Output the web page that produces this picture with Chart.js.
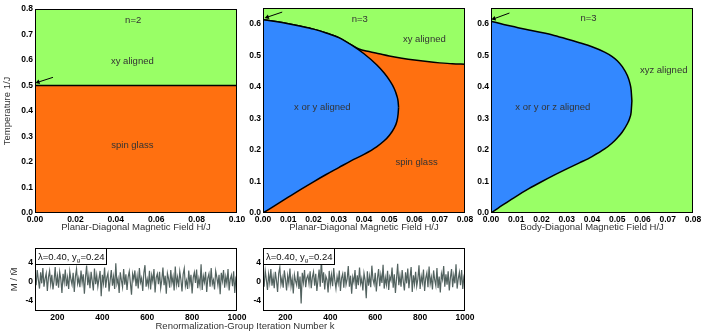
<!DOCTYPE html>
<html lang="en">
<head>
<meta charset="UTF-8">
<title>Phase diagrams and magnetization series</title>
<script src="https://cdn.jsdelivr.net/npm/chart.js"></script>
<style>
  body { margin: 0; background: #fff; font-family: "Liberation Sans", Arial, sans-serif; }
  #wrap { position: relative; width: 715px; height: 334px; overflow: hidden; }
  .box { position: absolute; }
  #kTitle { position: absolute; left: 0; width: 490px; top: 320px; text-align: center; font-size: 9.5px; color: #333; }
</style>
</head>
<body>
<div id="wrap">
  <div class="box" style="left:0;top:0"><canvas id="c1" width="248" height="236"></canvas></div>
  <div class="box" style="left:245px;top:0"><canvas id="c2" width="230" height="236"></canvas></div>
  <div class="box" style="left:473px;top:0"><canvas id="c3" width="232" height="236"></canvas></div>
  <div class="box" style="left:0;top:240px"><canvas id="c4" width="248" height="84"></canvas></div>
  <div class="box" style="left:245px;top:240px"><canvas id="c5" width="230" height="84"></canvas></div>
  <div id="kTitle">Renormalization-Group Iteration Number k</div>
</div>

<script>
// ---- data ----
// n=2, planar field: boundary between xy aligned and spin glass
const p1X = [0, 0.1];
const p1Boundary = [0.5, 0.5];
const p1Top = [0.8, 0.8];
const p1ArrowX = [0.0089, 0.0015];
const p1ArrowY = [0.532, 0.513];

// n=3, planar field
const p2BranchX = [0, 0.005, 0.01, 0.015, 0.02, 0.025, 0.03, 0.035, 0.04, 0.045, 0.048, 0.05, 0.052, 0.053, 0.0535, 0.0537];
const p2UpperY  = [0.613, 0.607, 0.600, 0.592, 0.583, 0.571, 0.556, 0.533, 0.505, 0.470, 0.444, 0.422, 0.394, 0.372, 0.354, 0.335];
const p2LowerY  = [0, 0.025, 0.050, 0.075, 0.099, 0.122, 0.144, 0.166, 0.186, 0.210, 0.229, 0.246, 0.270, 0.290, 0.313, 0.335];
const p2XyX = [0, 0.005, 0.01, 0.015, 0.02, 0.025, 0.03, 0.035, 0.038, 0.042, 0.046, 0.05, 0.055, 0.06, 0.065, 0.07, 0.075, 0.08];
const p2XyY = [0.613, 0.607, 0.600, 0.592, 0.583, 0.571, 0.556, 0.533, 0.520, 0.512, 0.505, 0.498, 0.491, 0.485, 0.480, 0.476, 0.473, 0.472];
const p2EdgeX = [0, 0.08];
const p2EdgeY = [0.65, 0.65];
const p2ArrowX = [0.0076, 0.0017];
const p2ArrowY = [0.637, 0.621];

// n=3, body-diagonal field
const p3BranchX = [0, 0.005, 0.01, 0.015, 0.02, 0.025, 0.03, 0.035, 0.04, 0.045, 0.048, 0.05, 0.052, 0.054, 0.055, 0.0555, 0.0558];
const p3UpperY  = [0.608, 0.598, 0.589, 0.580, 0.572, 0.563, 0.552, 0.540, 0.527, 0.510, 0.496, 0.483, 0.464, 0.436, 0.412, 0.390, 0.355];
const p3LowerY  = [0, 0.027, 0.053, 0.077, 0.099, 0.120, 0.140, 0.159, 0.179, 0.203, 0.222, 0.238, 0.257, 0.283, 0.302, 0.320, 0.355];
const p3ArrowX = [0.0073, 0.0012];
const p3ArrowY = [0.634, 0.616];

// magnetization M / M-bar along the RG trajectory, k = 100 .. 1000
const mA = [
  1.2,-0.8,2.4,0.3,-1.5,1.9,-0.4,2.8,-1.1,0.6,
  1.7,-2.0,0.9,2.2,-0.6,1.4,-1.7,0.2,3.0,-0.9,
  1.1,-1.3,2.0,0.5,-2.4,1.6,-0.2,2.5,-1.0,0.8,
  -1.6,2.1,0.4,-0.7,1.8,-2.2,1.0,2.6,-0.5,0.7,
  -1.2,2.3,-0.3,1.5,-2.6,0.9,3.3,-0.8,1.2,-1.4,
  2.0,0.1,-1.9,2.7,-0.6,1.3,-1.1,0.6,2.2,-3.1,
  1.4,-0.4,2.9,-1.3,0.8,1.7,-2.1,0.3,2.4,-0.9,
  1.0,-1.6,3.8,-0.5,0.6,-2.4,1.9,0.2,-1.2,2.6,
  -0.7,1.5,-1.8,0.9,2.1,-0.3,-2.8,1.6,0.4,2.3,
  -1.0,1.1,-1.5,2.8,-0.2,0.7,-2.0,1.8,3.4,-1.1,
  0.5,-0.9,2.2,-1.7,1.3,0.0,2.6,-2.3,0.8,1.6,
  -0.6,2.0,-1.4,0.3,2.9,-0.8,1.2,-2.6,1.7,0.6,
  -1.3,2.4,-0.4,1.0,-1.9,3.1,-0.7,0.9,-1.2,2.1,
  0.4,-2.1,1.5,2.7,-1.0,0.2,-1.6,2.3,-0.5,1.4,
  -2.5,0.8,1.9,-0.3,2.5,-1.4,0.6,-0.9,3.6,-1.8,
  1.1,-0.2,2.0,-2.2,0.7,1.6,-1.1,2.8,-0.6,0.3,
  -1.7,2.2,0.9,-0.8,1.4,-2.7,1.8,0.1,2.4,-1.3,
  1.0,-0.5,2.6,-1.9,0.5,1.3,-1.0,2.1,-2.4,0.8,
  1.5
];
const mB = [
  0.9,-1.1,2.2,0.4,-1.8,1.5,-0.3,2.6,-0.9,1.0,
  -1.4,2.0,0.2,-2.2,1.7,3.0,-0.6,0.8,-1.3,2.3,
  0.5,-1.9,1.2,-0.4,2.7,-1.0,0.6,-2.5,1.4,0.1,
  -0.8,2.1,-1.6,1.0,-4.6,1.8,-0.2,2.4,-1.2,0.7,
  1.3,-0.5,2.1,-1.4,0.9,2.0,-0.9,1.6,-2.0,0.3,
  2.5,-1.1,4.8,-0.3,1.9,-1.7,1.1,0.4,-2.3,2.2,
  -0.6,1.4,-1.0,2.8,0.2,-1.5,1.0,-0.4,2.3,-2.0,
  0.7,1.6,-1.3,2.0,-0.7,0.5,3.2,-1.1,1.2,-2.6,
  0.9,-0.2,2.4,-1.6,1.3,-0.8,2.9,-0.5,0.6,-1.9,
  1.7,0.3,-3.5,2.1,-0.9,1.1,-1.2,3.3,0.4,-0.6,
  1.8,-2.1,0.7,2.6,-1.0,1.4,-0.3,3.5,-1.5,0.8,
  -0.7,2.2,-1.8,1.0,0.2,2.9,-1.3,1.5,-2.4,0.6,
  3.7,-0.8,1.2,-1.1,2.4,0.0,-1.9,1.9,-0.4,2.7,
  -1.4,0.9,3.0,-2.2,1.3,-0.6,2.0,-1.0,0.5,3.4,
  -1.6,1.1,-0.3,2.5,-2.0,0.7,1.8,-1.2,3.1,-0.5,
  0.9,-1.7,2.3,0.3,-0.9,2.8,-1.4,1.0,-2.3,1.6,
  0.4,3.2,-1.1,1.5,-0.7,2.1,-1.9,0.8,2.6,-1.2,
  1.3,-0.4,3.6,-1.5,0.6,1.9,-0.8,2.4,-1.6,1.0,
  2.0
];
const kStart = 100, kStep = 5;

// tick labels
const p1XTicks = [0, 0.02, 0.04, 0.06, 0.08, 0.1];
const p1YTicks = [0, 0.1, 0.2, 0.3, 0.4, 0.5, 0.6, 0.7, 0.8];
const p23XTicks = [0, 0.01, 0.02, 0.03, 0.04, 0.05, 0.06, 0.07, 0.08];
const p23YTicks = [0, 0.1, 0.2, 0.3, 0.4, 0.5, 0.6];
const kTicks = [200, 400, 600, 800, 1000];
const mTicks = [-4, 0, 4];

// region labels (data coordinates)
const p1Notes = [
  { x: 0.0486, y: 0.757, text: 'n=2' },
  { x: 0.0482, y: 0.596, text: 'xy aligned' },
  { x: 0.0482, y: 0.264, text: 'spin glass' }
];
const p2Notes = [
  { x: 0.0383, y: 0.613, text: 'n=3' },
  { x: 0.0639, y: 0.549, text: 'xy aligned' },
  { x: 0.0235, y: 0.335, text: 'x or y aligned' },
  { x: 0.0608, y: 0.162, text: 'spin glass' }
];
const p3Notes = [
  { x: 0.0386, y: 0.616, text: 'n=3' },
  { x: 0.0684, y: 0.453, text: 'xyz aligned' },
  { x: 0.0245, y: 0.336, text: 'x or y or z aligned' }
];

const GREEN = '#99ff66', ORANGE = '#ff7010', BLUE = '#3388ff';
const FAMILY = '"Liberation Sans", Arial, sans-serif';
const tickFont = { family: FAMILY, size: 8.5, weight: 'bold' };
const titleFont = { family: FAMILY, size: 9.5 };

function pts(xs, ys) { return xs.map((x, i) => ({ x: x, y: ys[i] })); }

function fixSize(size, horizontal) {
  return function (s) {
    if (horizontal) s.height = size; else s.width = size;
    s.paddingLeft = 0; s.paddingRight = 0; s.paddingTop = 0; s.paddingBottom = 0;
  };
}

function axis(min, max, ticks, digits, size, horizontal, title, pad) {
  return {
    type: 'linear', min: min, max: max,
    grid: { display: false, drawTicks: false },
    border: { display: false },
    afterBuildTicks: s => { s.ticks = ticks.map(v => ({ value: v })); },
    ticks: {
      font: tickFont, color: '#000', padding: 2,
      autoSkip: false, maxRotation: 0,
      callback: v => Number(v).toFixed(digits)
    },
    title: title ? { display: true, text: title, font: titleFont, color: '#333', padding: pad } : { display: false },
    afterFit: fixSize(size, horizontal)
  };
}

function frame(notes) {
  return {
    id: 'frame',
    afterDatasetsDraw(chart) {
      const ctx = chart.ctx, a = chart.chartArea;
      const xs = chart.scales.x, ys = chart.scales.y;
      ctx.save();
      ctx.font = '9.5px ' + FAMILY;
      ctx.fillStyle = '#333';
      ctx.textAlign = 'center';
      ctx.textBaseline = 'middle';
      notes.forEach(n => ctx.fillText(n.text, xs.getPixelForValue(n.x), ys.getPixelForValue(n.y)));
      ctx.strokeStyle = '#000';
      ctx.lineWidth = 1;
      ctx.strokeRect(a.left + 0.5, a.top + 0.5, a.width - 1, a.height - 1);
      ctx.restore();
    }
  };
}

// box with "λ=0.40, y_g=0.24"
const legendBox = {
  id: 'lbox',
  afterDatasetsDraw(chart) {
    const ctx = chart.ctx, a = chart.chartArea;
    const x = a.left, y = a.top, w = 71, h = 16;
    ctx.save();
    ctx.fillStyle = '#fff';
    ctx.fillRect(x, y, w, h);
    ctx.strokeStyle = '#000';
    ctx.lineWidth = 1;
    ctx.strokeRect(x + 0.5, y + 0.5, w, h);
    ctx.fillStyle = '#111';
    ctx.textAlign = 'left';
    ctx.textBaseline = 'alphabetic';
    let tx = x + 3;
    const by = y + 11.5;
    ctx.font = '9.5px ' + FAMILY;
    ctx.fillText('λ=0.40, y', tx, by);
    tx += ctx.measureText('λ=0.40, y').width;
    ctx.font = '6px ' + FAMILY;
    ctx.fillText('g', tx, by + 2.5);
    tx += ctx.measureText('g').width + 0.3;
    ctx.font = '9.5px ' + FAMILY;
    ctx.fillText('=0.24', tx, by);
    ctx.restore();
  }
};

function arrowSet(xs, ys) {
  return {
    data: pts(xs, ys), borderColor: '#000', borderWidth: 1, fill: false,
    pointRadius: [0, 2.8], pointStyle: 'triangle', pointRotation: 252,
    pointBackgroundColor: '#000', pointBorderColor: '#000', pointBorderWidth: 0, clip: false
  };
}

function curve(xs, ys, fill, color) {
  return {
    data: pts(xs, ys), borderColor: '#000', borderWidth: 1.5,
    backgroundColor: color || 'transparent', fill: fill,
    cubicInterpolationMode: 'monotone', pointRadius: 0
  };
}

function area(xs, ys, color) {
  return { data: pts(xs, ys), borderWidth: 0, borderColor: color, backgroundColor: color, fill: 'origin', pointRadius: 0 };
}

function baseOptions(pad, scales) {
  return {
    responsive: false, animation: false, devicePixelRatio: 1,
    layout: { padding: pad },
    elements: { point: { radius: 0 } },
    plugins: { legend: { display: false }, tooltip: { enabled: false } },
    scales: scales
  };
}

// panel 1: n=2 planar field
new Chart(document.getElementById('c1'), {
  type: 'line',
  data: { datasets: [
    arrowSet(p1ArrowX, p1ArrowY),
    Object.assign(area(p1X, p1Boundary, ORANGE), { borderColor: '#000', borderWidth: 1.5 }),
    area(p1X, p1Top, GREEN)
  ] },
  options: baseOptions({ top: 9, right: 11, bottom: 0, left: 0 }, {
    x: axis(0, 0.1, p1XTicks, 2, 23, true, 'Planar-Diagonal Magnetic Field H/J', { top: 0, bottom: 3 }),
    y: axis(0, 0.8, p1YTicks, 1, 35, false, 'Temperature 1/J', { top: 2, bottom: 0 })
  }),
  plugins: [frame(p1Notes)]
});

// panel 2: n=3 planar field
new Chart(document.getElementById('c2'), {
  type: 'line',
  data: { datasets: [
    arrowSet(p2ArrowX, p2ArrowY),
    curve(p2BranchX, p2LowerY, false),
    curve(p2BranchX, p2UpperY, '-1', BLUE),
    curve(p2XyX, p2XyY, 'end', GREEN),
    area(p2EdgeX, p2EdgeY, ORANGE)
  ] },
  options: baseOptions({ top: 8, right: 10, bottom: 0, left: 0 }, {
    x: axis(0, 0.08, p23XTicks, 2, 23, true, 'Planar-Diagonal Magnetic Field H/J', { top: 0, bottom: 3 }),
    y: axis(0, 0.65, p23YTicks, 1, 18, false, null)
  }),
  plugins: [frame(p2Notes)]
});

// panel 3: n=3 body-diagonal field
new Chart(document.getElementById('c3'), {
  type: 'line',
  data: { datasets: [
    arrowSet(p3ArrowX, p3ArrowY),
    curve(p3BranchX, p3LowerY, false),
    curve(p3BranchX, p3UpperY, '-1', BLUE),
    area(p2EdgeX, p2EdgeY, GREEN)
  ] },
  options: baseOptions({ top: 8, right: 12, bottom: 0, left: 0 }, {
    x: axis(0, 0.08, p23XTicks, 2, 23, true, 'Body-Diagonal Magnetic Field H/J', { top: 0, bottom: 3 }),
    y: axis(0, 0.65, p23YTicks, 1, 18, false, null)
  }),
  plugins: [frame(p3Notes)]
});

// bottom: magnetization series
function seriesChart(id, values, yw, rightPad, yTitle) {
  const ks = values.map((v, i) => kStart + i * kStep);
  new Chart(document.getElementById(id), {
    type: 'line',
    data: { datasets: [{ data: pts(ks, values), borderColor: '#52625f', borderWidth: 1.2, pointRadius: 0, fill: false }] },
    options: baseOptions({ top: 8, right: rightPad, bottom: 0, left: 0 }, {
      x: axis(100, 1000, kTicks, 0, 13, true, null),
      y: axis(-6.2, 7, mTicks, 0, yw, false, yTitle, { top: 9, bottom: 0 })
    }),
    plugins: [frame([]), legendBox]
  });
}
seriesChart('c4', mA, 35, 11, 'M / M\u0304');
seriesChart('c5', mB, 18, 10, null);
</script>
</body>
</html>
